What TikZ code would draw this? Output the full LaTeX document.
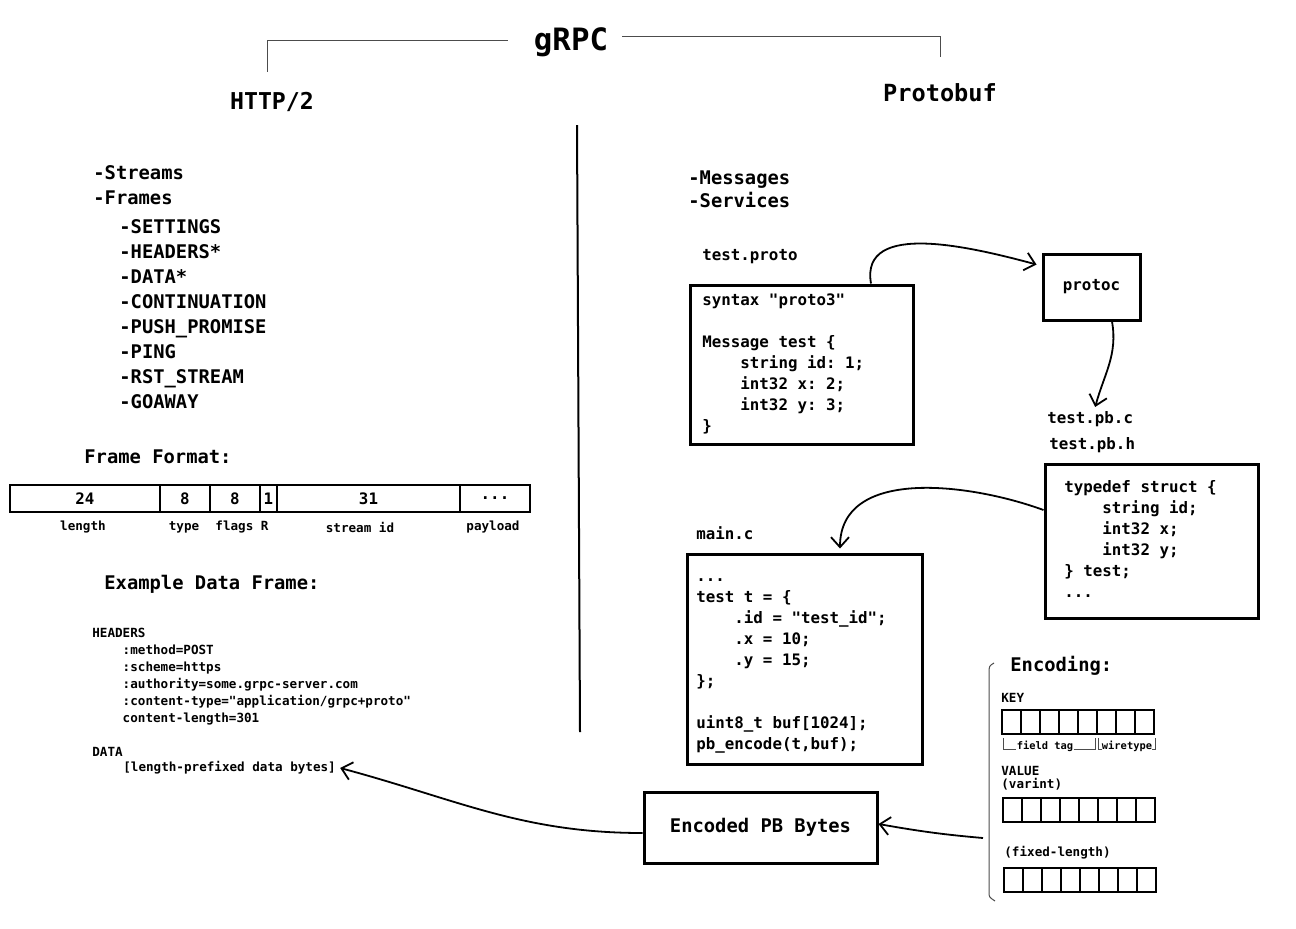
\documentclass[tikz,border=0pt]{standalone}
\usepackage{fontspec}
\setmonofont{DejaVu Sans Mono}
\usetikzlibrary{arrows.meta,positioning}
\newcommand{\codeindent}{\phantom{0000}}
\newcommand{\threedots}{...}
\tikzset{
    %Define standard arrow tip
    >={Straight Barb[length=5pt,width=9pt]},
    %Define styles for text
    txt/.style={
           font=\ttfamily\bfseries\fontsize{9.4}{12.5}\selectfont,
           inner sep=0pt,
           align=left},
    listing/.style={txt},
    code/.style={
           font=\ttfamily\bfseries\fontsize{7.9}{10.5}\selectfont,
           inner sep=0pt,
           align=left},
    codeblk/.style={code},
    hdr/.style={
           font=\ttfamily\bfseries\fontsize{6.3}{8.5}\selectfont,
           inner sep=0pt,
           align=left},
    small/.style={hdr},
    tiny/.style={font=\ttfamily\bfseries\fontsize{5.2}{6}\selectfont, inner sep=0pt},
    %Define style for boxes
    box/.style={
           rectangle,
           draw=black, line width=1.5pt},
    cell/.style={draw=black, line width=1pt},
    % Define line styles
    flow/.style={->, line width=0.9pt},
    bracket/.style={draw=black!70, line width=0.5pt},
    divider/.style={draw=black, line width=1pt}
}
\begin{document}
\begin{tikzpicture}[x=0.5pt,y=-0.5pt]
\useasboundingbox (0,0) rectangle (1296,928);
% titles
\node[txt, font=\ttfamily\bfseries\fontsize{15.4}{18}\selectfont] (grpc) at (571,42) {gRPC};
\node[txt, font=\ttfamily\bfseries\fontsize{11.6}{14}\selectfont] (http) at (272,102) {HTTP/2};
\node[txt, font=\ttfamily\bfseries\fontsize{11.8}{14}\selectfont] (pbuf) at (940,93) {Protobuf};
\draw[bracket] ([xshift=-13pt,yshift=1pt]grpc.west) -| ([xshift=-2.5pt,yshift=10pt]http.north);
\draw[bracket] ([xshift=7pt,yshift=3pt]grpc.east) -| ([yshift=13pt]pbuf.north);
\draw[divider] (577,125) -- (580,732);

% HTTP/2 side
\node[listing, anchor=north west] (h2list) at (93,165) {-Streams\\-Frames};
\node[listing, anchor=north west] (frames) at (119,219) {-SETTINGS\\-HEADERS*\\-DATA*\\-CONTINUATION\\-PUSH\_PROMISE\\-PING\\-RST\_STREAM\\-GOAWAY};
\node[txt, anchor=west] (fmt) at (84,457) {Frame Format:};
\draw[cell] (10,485) rectangle (530,512);
\foreach \x in {160,210,260,277,460}
    \draw[cell] (\x,485) -- (\x,512);
\foreach \x/\v [count=\i] in {85/24,185/8,235/8,268.5/1,368.5/31,495/\threedots}
    \node[code] (bits\i) at (\x,498.5) {\v};
\foreach \x/\t [count=\i] in {83/length,184/type,242/flags R,360/stream id,493/payload}
    \node[small] (fld\i) at (\x,527) {\t};
\node[txt, anchor=west] (ex) at (104,584) {Example Data Frame:};
\node[hdr, anchor=north west] (hdrs) at (92,627.6) {HEADERS\\\codeindent:method=POST\\\codeindent:scheme=https\\\codeindent:authority=some.grpc-server.com\\\codeindent:content-type="application/grpc+proto"\\\codeindent content-length=301\\\mbox{}\\DATA};
\node[hdr, anchor=west] (bytes) at (123,768) {[length-prefixed data bytes]};

% Protobuf side
\node[listing, anchor=north west, font=\ttfamily\bfseries\fontsize{9.4}{11.5}\selectfont] (pblist) at (688,170.7) {-Messages\\-Services};
\node[code, anchor=west] (protoname) at (702,257) {test.proto};
\node[box, minimum width=111.5pt, minimum height=79.5pt] (proto) at (801.5,364.5) {};
\node[codeblk, anchor=north west] (protosrc) at (702,293) {syntax "proto3"\\\mbox{}\\Message test \{\\\codeindent string id: 1;\\\codeindent int32 x: 2;\\\codeindent int32 y: 3;\\\}};
\node[box, code, minimum width=48.5pt, minimum height=33pt] (protoc) at (1091.5,287) {protoc};
\node[code, anchor=west] (pbc) at (1047,419) {test.pb.c};
\node[code, anchor=west] (pbh) at (1049,445) {test.pb.h};
\node[box, minimum width=106.5pt, minimum height=77pt] (pbstruct) at (1151.5,541) {};
\node[codeblk, anchor=north west] (structsrc) at (1064,480) {typedef struct \{\\\codeindent string id;\\\codeindent int32 x;\\\codeindent int32 y;\\\} test;\\...};
\node[code, anchor=west] (mainname) at (696,533) {main.c};
\node[box, minimum width=117.5pt, minimum height=105pt] (mainc) at (804.5,659) {};
\node[codeblk, anchor=north west] (mainsrc) at (696,578) {...\\test t = \{\\\codeindent.id = "test\_id";\\\codeindent.x = 10;\\\codeindent.y = 15;\\\};\\\mbox{}\\uint8\_t buf[1024];\\pb\_encode(t,buf);};
\node[box, txt, minimum width=116.5pt, minimum height=35.5pt] (pbbytes) at (760.5,827.5) {Encoded PB Bytes};

% encoding
\node[txt, anchor=west] (enc) at (1010,666) {Encoding:};
\draw[bracket] (994,663) .. controls (989,666) .. (989,674) -- (989,892) .. controls (989,897) .. (995,901);
\node[small, anchor=west] (key) at (1001,698) {KEY};
\foreach \i in {0,...,7}
    \draw[cell] (1002+19*\i,710) rectangle ++(19,24);
\node[tiny] (ftag) at (1045,746) {field tag};
\node[tiny] (wtype) at (1127,746) {wiretype};
\draw[bracket] (1003,738) |- (ftag.base west);
\draw[bracket] (ftag.base east) -| (1095,738);
\draw[bracket] (1098,738) |- (wtype.base west);
\draw[bracket] (wtype.base east) -| (1155,738);
\node[small, anchor=west] (val) at (1001,771) {VALUE};
\node[small, anchor=west] (varint) at (1001,784) {(varint)};
\foreach \i in {0,...,7}
    \draw[cell] (1003+19*\i,798) rectangle ++(19,24);
\node[small, anchor=west] (fixed) at (1004,853) {(fixed-length)};
\foreach \i in {0,...,7}
    \draw[cell] (1004+19*\i,868) rectangle ++(19,24);
\coordinate (encstart) at (983,838);

% arrows
\draw[flow] ([xshift=34.75pt]proto.north) to[out=100,in=165] ([xshift=-2.5pt,yshift=-6pt]protoc.north west);
\draw[flow] ([xshift=10.25pt]protoc.south) to[out=-80,in=75] ([xshift=2.5pt,yshift=2pt]pbc.north);
\draw[flow] ([yshift=15.5pt]pbstruct.west) to[out=160,in=90] ([xshift=17.75pt,yshift=2pt]mainc.north);
\draw[flow] (encstart) to[out=175,in=-10] ([yshift=1.75pt]pbbytes.east);
\draw[flow] ([yshift=-2.75pt]pbbytes.west) to[out=180,in=-15] ([xshift=2pt]bytes.east);
\end{tikzpicture}
\end{document}
